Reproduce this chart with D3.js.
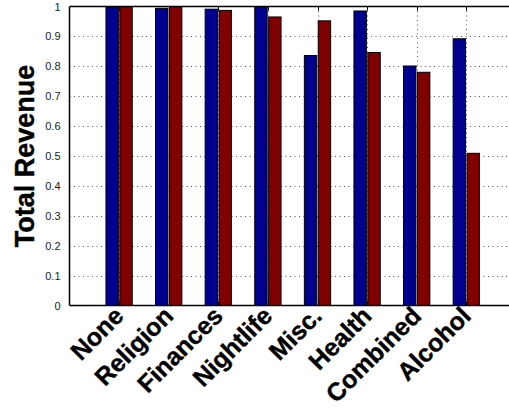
<!DOCTYPE html>
<html>
<head>
<meta charset="utf-8">
<script src="https://cdn.jsdelivr.net/npm/d3@7"></script>
<style>
  html, body { margin: 0; padding: 0; background: #fff; }
  svg { display: block; }
</style>
</head>
<body>
<svg id="chart" width="509" height="410"></svg>
<script>
// Revenue per category, two series
const categories = ["None", "Religion", "Finances", "Nightlife", "Misc.", "Health", "Combined", "Alcohol"];
const seriesA = [1.0, 0.994, 0.991, 1.0, 0.836, 0.985, 0.801, 0.892];
const seriesB = [1.0, 1.0, 0.987, 0.965, 0.952, 0.846, 0.780, 0.509];
const yTicks = [0, 0.1, 0.2, 0.3, 0.4, 0.5, 0.6, 0.7, 0.8, 0.9, 1];
const yTickLabels = ["0", "0.1", "0.2", "0.3", "0.4", "0.5", "0.6", "0.7", "0.8", "0.9", "1"];
const seriesColors = ["#00008f", "#800000"];

(function () {
  const svg = d3.select("#chart");
  const plotLeft = 69.5, plotTop = 6.5, plotBottom = 305.5, unit = 49.6;

  // x runs from 0 to 9 in category units; the right edge lies past the canvas
  const x = d3.scaleLinear().domain([0, 9]).range([plotLeft, plotLeft + 9 * unit]);
  const y = d3.scaleLinear().domain([0, 1]).range([plotBottom, plotTop]);

  const fontFamily = "'Liberation Sans', Arial, Helvetica, sans-serif";

  // Dotted grid
  const grid = svg.append("g").attr("stroke", "#555").attr("stroke-width", 1)
    .attr("stroke-dasharray", "1,3.5").attr("fill", "none");
  yTicks.slice(1, -1).forEach(t => {
    const yy = Math.round(y(t)) + 0.5;
    grid.append("line").attr("x1", plotLeft).attr("x2", 509).attr("y1", yy).attr("y2", yy);
  });
  categories.forEach((c, i) => {
    const cx = Math.round(x(i + 1)) + 0.5;
    grid.append("line").attr("x1", cx).attr("x2", cx).attr("y1", plotTop).attr("y2", plotBottom);
  });

  // Bars
  const offset = 0.14, barW = 0.25;
  const bars = svg.append("g");
  [seriesA, seriesB].forEach((vals, s) => {
    bars.selectAll(null).data(vals).enter().append("rect")
      .attr("x", (d, i) => x(i + 1 + (s === 0 ? -offset : offset) - barW / 2))
      .attr("width", x(barW) - x(0))
      .attr("y", d => y(d))
      .attr("height", d => y(0) - y(d))
      .attr("fill", seriesColors[s])
      .attr("stroke", "#000").attr("stroke-width", 1);
  });

  // Category tick marks (inward) on top and bottom
  const tickG = svg.append("g").attr("stroke", "#000").attr("stroke-width", 1);
  categories.forEach((c, i) => {
    const cx = Math.round(x(i + 1)) + 0.5;
    tickG.append("line").attr("x1", cx).attr("x2", cx).attr("y1", plotTop).attr("y2", plotTop + 4);
    tickG.append("line").attr("x1", cx).attr("x2", cx).attr("y1", plotBottom).attr("y2", plotBottom - 4);
  });

  // Axes box (left, top, bottom)
  const frame = svg.append("g").attr("stroke", "#000").attr("stroke-width", 1.5).attr("fill", "none");
  frame.append("line").attr("x1", plotLeft).attr("x2", plotLeft).attr("y1", plotTop).attr("y2", plotBottom);
  frame.append("line").attr("x1", plotLeft).attr("x2", 509).attr("y1", plotTop).attr("y2", plotTop);
  frame.append("line").attr("x1", plotLeft).attr("x2", 509).attr("y1", plotBottom).attr("y2", plotBottom);

  // Y axis tick labels
  const yAxis = d3.axisLeft(y).tickValues(yTicks)
    .tickFormat((d, i) => yTickLabels[i]).tickSize(0).tickPadding(9);
  const yg = svg.append("g").attr("transform", `translate(${plotLeft},0)`).call(yAxis);
  yg.select(".domain").remove();
  yg.selectAll("text").attr("font-family", fontFamily).attr("font-size", 11).attr("fill", "#1a1a1a");

  // Rotated category labels, ending just below each group
  svg.append("g").selectAll("text").data(categories).enter().append("text")
    .attr("transform", (d, i) => `translate(${x(i + 1) + 6},${plotBottom + 12}) rotate(-45)`)
    .attr("text-anchor", "end")
    .attr("font-family", fontFamily).attr("font-weight", "bold").attr("font-size", 25)
    .attr("stroke", "#000").attr("stroke-width", 0.4)
    .attr("fill", "#000")
    .text(d => d);

  // Y axis title
  svg.append("text")
    .attr("transform", `translate(34,${(plotTop + plotBottom) / 2}) rotate(-90)`)
    .attr("text-anchor", "middle")
    .attr("font-family", fontFamily).attr("font-weight", "bold").attr("font-size", 27)
    .attr("stroke", "#000").attr("stroke-width", 0.4)
    .attr("fill", "#000")
    .text("Total Revenue");
})();
</script>
</body>
</html>
